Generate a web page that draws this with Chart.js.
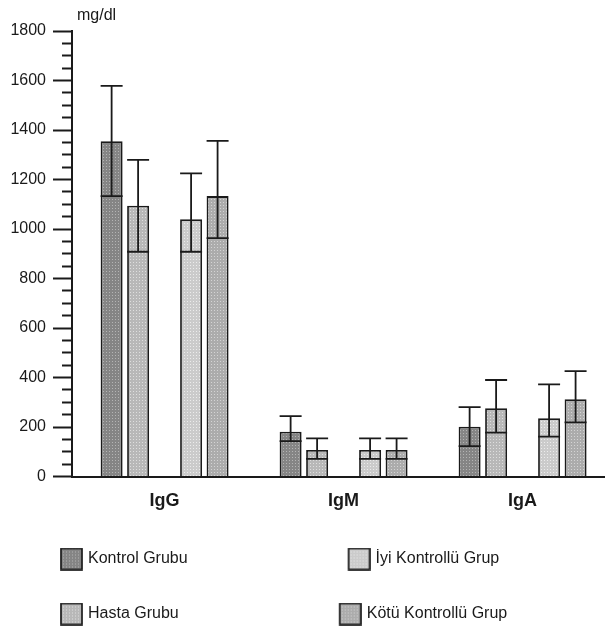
<!DOCTYPE html>
<html><head><meta charset="utf-8">
<script src="https://cdn.jsdelivr.net/npm/chart.js@4.4.1/dist/chart.umd.min.js"></script>
<style>html,body{margin:0;padding:0;background:#fff;}</style>
</head><body>
<canvas id="c" width="608" height="629"></canvas>
<script>
// ---- data ----
const categories = ['IgG', 'IgM', 'IgA'];
const seriesNames = ['Kontrol Grubu', 'Hasta Grubu', 'İyi Kontrollü Grup', 'Kötü Kontrollü Grup'];
const kontrolMean = [1355, 181, 201];
const kontrolLow  = [1133, 143, 123];
const kontrolHigh = [1578, 244, 280];
const hastaMean = [1094, 107, 276];
const hastaLow  = [908, 71, 177];
const hastaHigh = [1279, 154, 390];
const iyiMean = [1039, 107, 235];
const iyiLow  = [908, 71, 161];
const iyiHigh = [1225, 154, 372];
const kotuMean = [1133, 107, 312];
const kotuLow  = [963, 71, 219];
const kotuHigh = [1356, 154, 426];
const yTickLabels = ['0', '200', '400', '600', '800', '1000', '1200', '1400', '1600', '1800'];
const unitText = 'mg/dl';
const legendOrder = [0, 2, 1, 3];

// ---- styles ----
const FONT = '"Liberation Sans", Arial, sans-serif';
const INK = '#1a1a1a';
function makePattern(base, dot) {
  const t = document.createElement('canvas');
  t.width = 3; t.height = 3;
  const g = t.getContext('2d');
  g.fillStyle = base; g.fillRect(0, 0, 3, 3);
  g.fillStyle = dot; g.fillRect(1, 1, 1, 1);
  return document.getElementById('c').getContext('2d').createPattern(t, 'repeat');
}
const fills = [
  makePattern('#858585', '#b4b4b4'),
  makePattern('#b8b8b8', '#dedede'),
  makePattern('#cbcbcb', '#ececec'),
  makePattern('#acacac', '#d4d4d4')
];
const LEG_W = 141, LEG_PAD = 39, SW = 21;
function swatch(fill) {
  const cv = document.createElement('canvas');
  cv.width = LEG_W + 6; cv.height = SW + 2;
  const g = cv.getContext('2d');
  const x0 = cv.width - SW - 1;
  g.fillStyle = fill; g.fillRect(x0, 1, SW, SW);
  g.strokeStyle = INK; g.lineWidth = 1.7; g.strokeRect(x0, 1, SW, SW);
  return cv;
}

const means = [kontrolMean, hastaMean, iyiMean, kotuMean];
const lows = [kontrolLow, hastaLow, iyiLow, kotuLow];
const highs = [kontrolHigh, hastaHigh, iyiHigh, kotuHigh];

const datasets = [];
means.forEach((m, i) => {
  if (i === 2) datasets.push({ label: '', data: [], spacer: true });
  datasets.push({
    label: seriesNames[i],
    data: m.map((v, j) => ({ x: j, y: v })),
    errLow: lows[i], errHigh: highs[i],
    backgroundColor: fills[i],
    borderColor: INK, borderWidth: 1.8,
    seriesIndex: i
  });
});

const errorBars = {
  id: 'errorBars',
  afterDatasetsDraw(chart) {
    const ctx = chart.ctx, ys = chart.scales.y;
    ctx.save();
    ctx.strokeStyle = INK; ctx.lineWidth = 1.8;
    chart.data.datasets.forEach((ds, di) => {
      if (!ds.errLow) return;
      chart.getDatasetMeta(di).data.forEach((bar, j) => {
        const p = bar.getProps(['x', 'width'], true);
        const yl = ys.getPixelForValue(ds.errLow[j]);
        const yh = ys.getPixelForValue(ds.errHigh[j]);
        const hw = p.width / 2;
        ctx.beginPath();
        ctx.moveTo(p.x, yl); ctx.lineTo(p.x, yh);
        ctx.moveTo(p.x - hw, yh); ctx.lineTo(p.x + hw, yh);
        ctx.moveTo(p.x - hw, yl); ctx.lineTo(p.x + hw, yl);
        ctx.stroke();
      });
    });
    ctx.restore();
  }
};
const unitLabel = {
  id: 'unitLabel',
  afterDraw(chart) {
    const ctx = chart.ctx;
    ctx.save();
    ctx.fillStyle = INK; ctx.font = '16px ' + FONT;
    ctx.textAlign = 'left'; ctx.textBaseline = 'alphabetic';
    ctx.fillText(unitText, chart.chartArea.left + 5, 20);
    ctx.restore();
  }
};

const X_UNIT = 179, X_FIRST = 164.6, AREA_L = 72, AREA_R = 604, PAD_L = -100;
const xMin = -(X_FIRST - AREA_L) / X_UNIT;
const xMax = xMin + (AREA_R - AREA_L) / X_UNIT;

new Chart(document.getElementById('c'), {
  type: 'bar',
  data: { datasets },
  options: {
    responsive: false, animation: false, devicePixelRatio: 1,
    categoryPercentage: 0.74, barPercentage: 0.83,
    layout: { padding: { left: PAD_L, right: 608 - AREA_R, top: 31, bottom: -3 } },
    plugins: {
      tooltip: { enabled: false },
      title: { display: false },
      legend: {
        position: 'bottom', align: 'start',
        labels: {
          usePointStyle: true, pointStyleWidth: LEG_W, boxHeight: 16,
          padding: LEG_PAD, color: INK,
          font: { family: FONT, size: 16 },
          generateLabels(chart) {
            return legendOrder.map(si => {
              const di = chart.data.datasets.findIndex(d => d.seriesIndex === si);
              return {
                text: seriesNames[si], datasetIndex: di,
                pointStyle: swatch(fills[si]), fontColor: INK,
                fillStyle: fills[si], strokeStyle: INK, lineWidth: 0, hidden: false
              };
            });
          }
        }
      }
    },
    scales: {
      x: {
        type: 'linear', min: xMin, max: xMax, offset: false,
        afterBuildTicks(s) { s.ticks = categories.map((c, i) => ({ value: i })); },
        afterFit(s) { s.height = 35.5; },
        grid: { display: true, drawOnChartArea: false, drawTicks: false, offset: false },
        border: { display: true, color: INK, width: 2 },
        ticks: {
          autoSkip: false, maxRotation: 0, padding: 14, color: INK,
          font: { family: FONT, size: 18, weight: 'bold' },
          callback: v => categories[v] ?? ''
        }
      },
      y: {
        min: 0, max: 1800,
        afterFit(s) { s.width = AREA_L - PAD_L; },
        grid: {
          display: true, drawOnChartArea: false, drawTicks: true,
          tickLength: 19, tickWidth: 2, tickColor: INK,
          tickBorderDash: c => (c.tick && c.tick.value % 200 === 0) ? [] : [10, 20],
          tickBorderDashOffset: c => (c.tick && c.tick.value % 200 === 0) ? 0 : 21
        },
        border: { display: true, color: INK, width: 2 },
        ticks: {
          stepSize: 50, autoSkip: false, padding: 7, color: INK,
          font: { family: FONT, size: 16 },
          callback: v => yTickLabels.includes(String(v)) ? String(v) : ''
        }
      }
    }
  },
  plugins: [errorBars, unitLabel]
});
</script>
</body></html>
